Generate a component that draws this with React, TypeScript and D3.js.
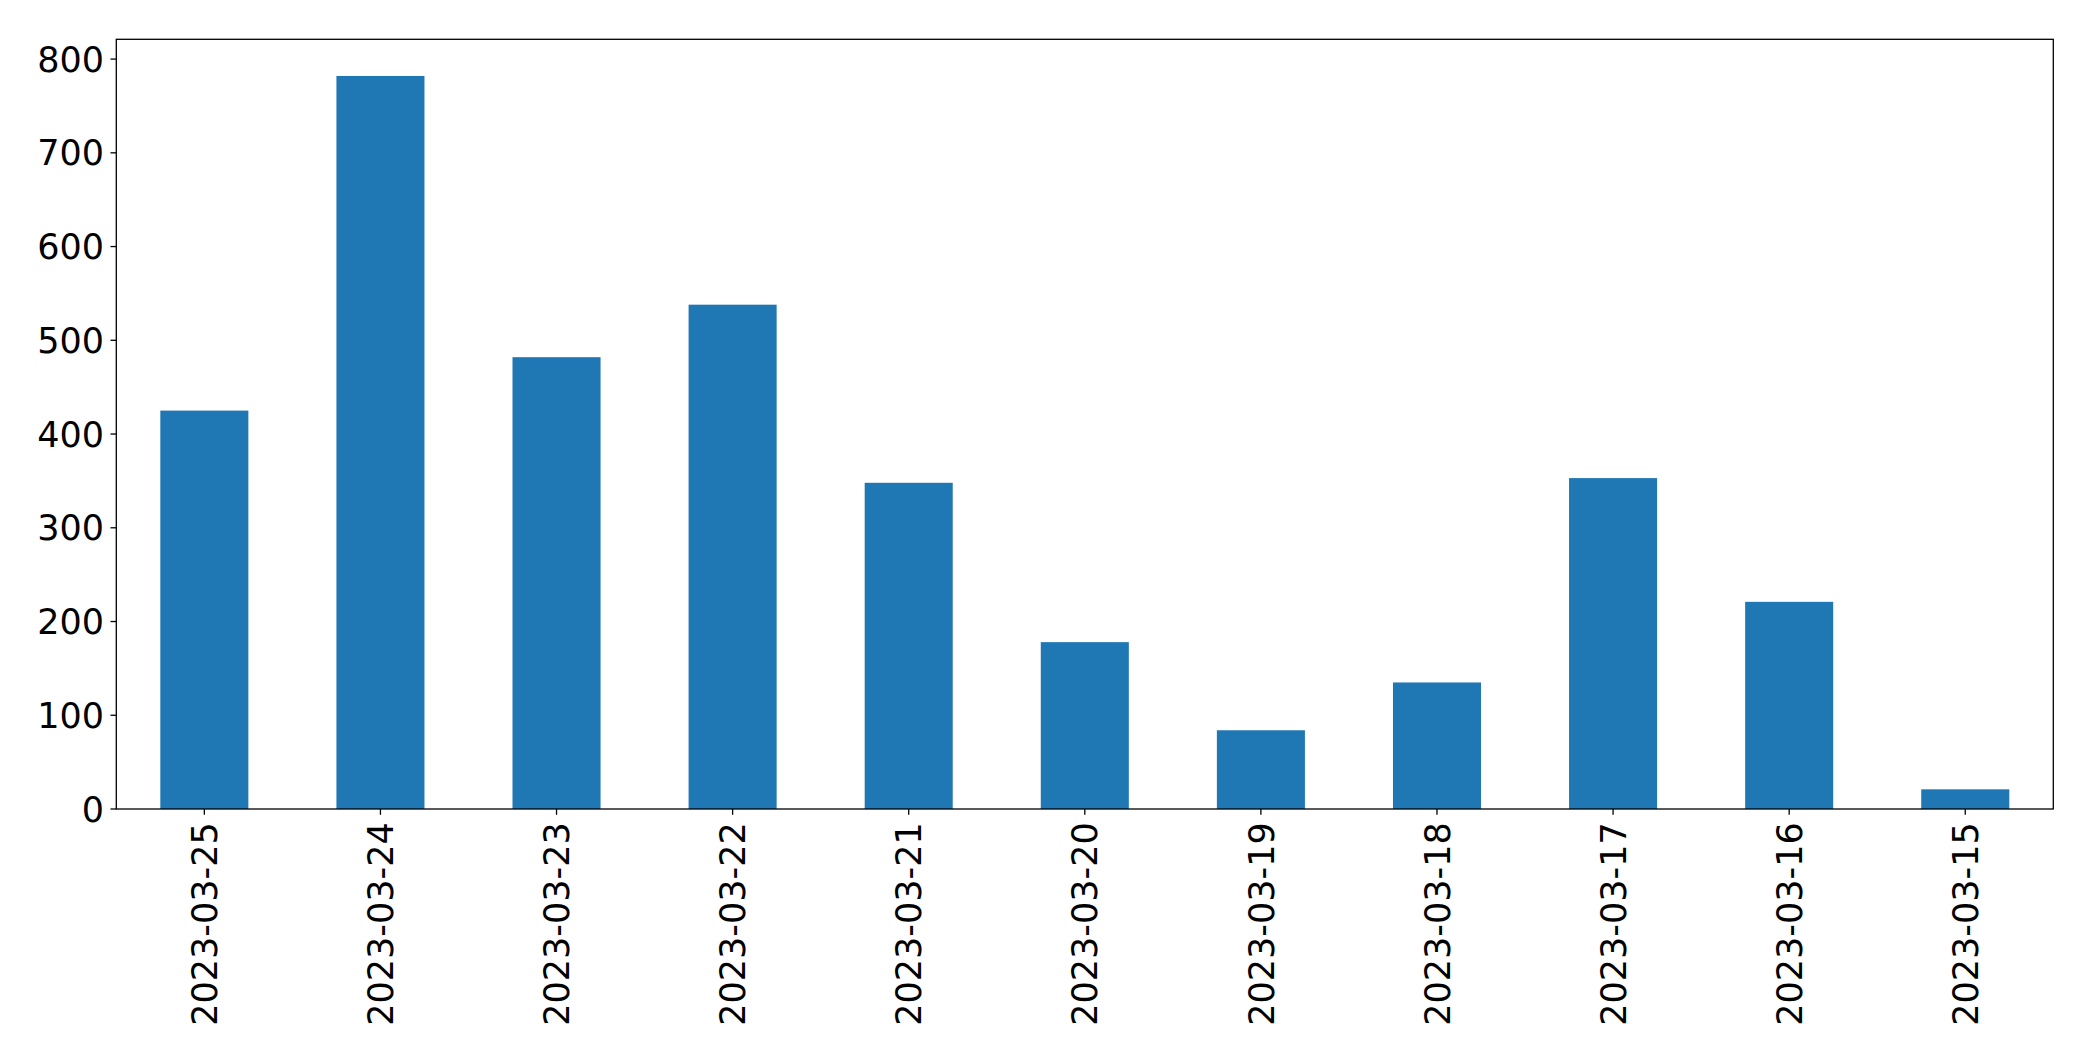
import React from "react";
import * as d3 from "d3";

const categories = ["2023-03-25","2023-03-24","2023-03-23","2023-03-22","2023-03-21","2023-03-20","2023-03-19","2023-03-18","2023-03-17","2023-03-16","2023-03-15"];
const values = [425, 782, 482, 538, 348, 178, 84, 135, 353, 221, 21];
const yTicks = [0, 100, 200, 300, 400, 500, 600, 700, 800];

const W = 2093, H = 1061;
const left = 116.3, right = 2053.3, top = 39.3, bottom = 809;
const FONT = "'DejaVu Sans', sans-serif";
const FS = 35;

export default function App() {
  const x = d3.scaleLinear().domain([-0.5, categories.length - 0.5]).range([left, right]);
  const ymax = d3.max(values)! * 1.05;
  const y = d3.scaleLinear().domain([0, ymax]).range([bottom, top]);
  const bw = x(0.25) - x(-0.25);
  const tick = 5.8;
  return (
    <svg width={W} height={H} style={{ position: "absolute", left: 0, top: 0 }}>
      <rect width={W} height={H} fill="#fff" />
      {values.map((v, i) => (
        <rect key={i} x={x(i) - bw / 2} y={y(v)} width={bw} height={y(0) - y(v)} fill="#1f77b4" />
      ))}
      <rect x={left} y={top} width={right - left} height={bottom - top} fill="none" stroke="#000" strokeWidth={1.3} />
      {yTicks.map((t) => (
        <g key={t}>
          <line x1={left - tick} x2={left} y1={y(t)} y2={y(t)} stroke="#000" strokeWidth={1.3} />
          <text x={left - tick - 6.5} y={y(t)} dy="0.36em" textAnchor="end" fontFamily={FONT} fontSize={FS} fill="#000">{t}</text>
        </g>
      ))}
      {categories.map((c, i) => (
        <g key={c}>
          <line x1={x(i)} x2={x(i)} y1={bottom} y2={bottom + tick} stroke="#000" strokeWidth={1.3} />
          <text transform={`translate(${x(i)},${bottom + tick + 7.5}) rotate(-90)`} dy="0.36em" textAnchor="end" fontFamily={FONT} fontSize={FS} fill="#000">{c}</text>
        </g>
      ))}
    </svg>
  );
}
